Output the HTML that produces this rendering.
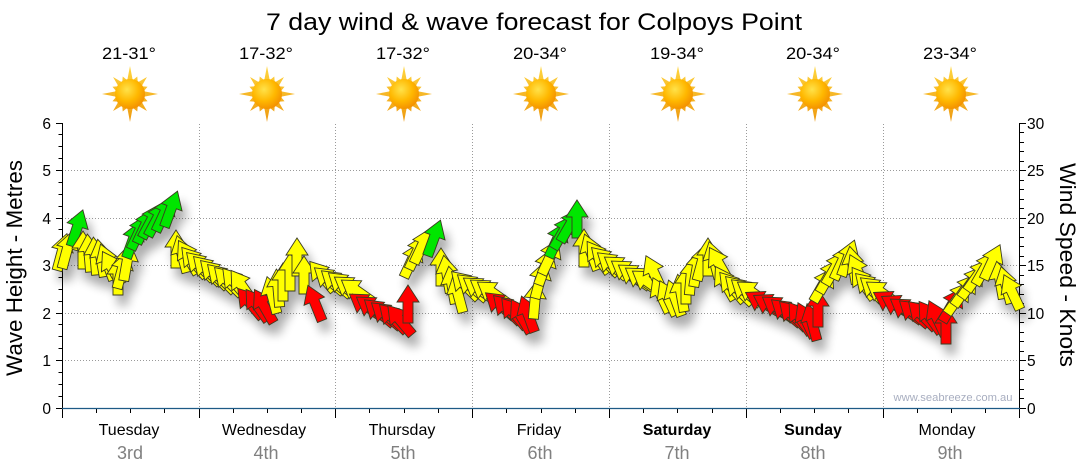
<!DOCTYPE html>
<html>
<head>
<meta charset="utf-8">
<style>
html,body{margin:0;padding:0;background:#fff;}
body{width:1080px;height:475px;overflow:hidden;}
svg{display:block;font-family:"Liberation Sans",Arial,sans-serif;}
</style>
</head>
<body>
<svg width="1080" height="475" viewBox="0 0 1080 475" xmlns="http://www.w3.org/2000/svg">
<defs>
  <radialGradient id="sg" cx="0.4" cy="0.35" r="0.7">
    <stop offset="0" stop-color="#ffe24a"/>
    <stop offset="0.55" stop-color="#ffb800"/>
    <stop offset="1" stop-color="#f28c00"/>
  </radialGradient>
  <linearGradient id="rg" x1="0" y1="0" x2="0" y2="1">
    <stop offset="0" stop-color="#ffd640"/>
    <stop offset="1" stop-color="#ee9a10"/>
  </linearGradient>
  <g id="sun">
    <polygon fill="url(#rg)" points="0,-28 2.73,-13.73 7.27,-17.55 7.78,-11.64 16.97,-16.97 11.64,-7.78 17.55,-7.27 13.73,-2.73 28,0 13.73,2.73 17.55,7.27 11.64,7.78 16.97,16.97 7.78,11.64 7.27,17.55 2.73,13.73 0,28 -2.73,13.73 -7.27,17.55 -7.78,11.64 -16.97,16.97 -11.64,7.78 -17.55,7.27 -13.73,2.73 -28,0 -13.73,-2.73 -17.55,-7.27 -11.64,-7.78 -16.97,-16.97 -7.78,-11.64 -7.27,-17.55 -2.73,-13.73"/>
    <circle r="15" fill="url(#sg)"/>
  </g>
  <path id="a" d="M0,-19 L11,-2 L5,-2 L5,19 L-5,19 L-5,-2 L-11,-2 Z" stroke="#3a3a20" stroke-width="0.9" stroke-linejoin="miter"/>
  <filter id="sh" filterUnits="userSpaceOnUse" x="30" y="150" width="1020" height="240">
    <feGaussianBlur in="SourceAlpha" stdDeviation="5"/>
    <feOffset dx="5" dy="10" result="o"/>
    <feComponentTransfer in="o" result="s"><feFuncA type="linear" slope="0.33"/></feComponentTransfer>
    <feMerge><feMergeNode in="s"/><feMergeNode in="SourceGraphic"/></feMerge>
  </filter>
</defs>

<!-- Title -->
<text x="534" y="30" font-size="24" text-anchor="middle" fill="#000" textLength="536" lengthAdjust="spacingAndGlyphs">7 day wind &amp; wave forecast for Colpoys Point</text>

<!-- Temps -->
<g font-size="16.5" fill="#000" text-anchor="middle">
  <text x="129" y="59" textLength="54" lengthAdjust="spacingAndGlyphs">21-31°</text>
  <text x="266" y="59" textLength="54" lengthAdjust="spacingAndGlyphs">17-32°</text>
  <text x="403" y="59" textLength="54" lengthAdjust="spacingAndGlyphs">17-32°</text>
  <text x="540" y="59" textLength="54" lengthAdjust="spacingAndGlyphs">20-34°</text>
  <text x="677" y="59" textLength="54" lengthAdjust="spacingAndGlyphs">19-34°</text>
  <text x="813" y="59" textLength="54" lengthAdjust="spacingAndGlyphs">20-34°</text>
  <text x="950" y="59" textLength="54" lengthAdjust="spacingAndGlyphs">23-34°</text>
</g>

<!-- Suns -->
<use href="#sun" transform="translate(130,94)"/>
<use href="#sun" transform="translate(267,94)"/>
<use href="#sun" transform="translate(404,94)"/>
<use href="#sun" transform="translate(541,94)"/>
<use href="#sun" transform="translate(678,94)"/>
<use href="#sun" transform="translate(815,94)"/>
<use href="#sun" transform="translate(951,94)"/>

<!-- Grid -->
<g stroke="#9a9a9a" stroke-width="1" stroke-dasharray="1,2" fill="none">
  <path d="M199.5,124V408M335.5,124V408M472.5,124V408M609.5,124V408M746.5,124V408M883.5,124V408"/>
  <path d="M62,170.5H1020M62,218.5H1020M62,265.5H1020M62,313.5H1020M62,360.5H1020"/>
</g>

<!-- Axes -->
<g stroke="#000" stroke-width="1" fill="none">
  <path d="M62.5,123V408"/>
  <path d="M1019.5,123V408"/>
  <path d="M56,408.5H62M58.5,396.5H62M58.5,384.5H62M58.5,372.5H62M56,360.5H62M58.5,348.5H62M58.5,336.5H62M58.5,324.5H62M56,313.5H62M58.5,301.5H62M58.5,289.5H62M58.5,277.5H62M56,265.5H62M58.5,253.5H62M58.5,241.5H62M58.5,229.5H62M56,218.5H62M58.5,206.5H62M58.5,194.5H62M58.5,182.5H62M56,170.5H62M58.5,158.5H62M58.5,146.5H62M58.5,134.5H62M56,123.5H62"/>
  <path d="M1020,408.5H1026M1020,398.5H1024M1020,389.5H1024M1020,379.5H1024M1020,370.5H1024M1020,360.5H1026M1020,351.5H1024M1020,341.5H1024M1020,332.5H1024M1020,322.5H1024M1020,313.5H1026M1020,303.5H1024M1020,294.5H1024M1020,284.5H1024M1020,275.5H1024M1020,265.5H1026M1020,256.5H1024M1020,246.5H1024M1020,237.5H1024M1020,227.5H1024M1020,218.5H1026M1020,208.5H1024M1020,199.5H1024M1020,189.5H1024M1020,180.5H1024M1020,170.5H1026M1020,161.5H1024M1020,151.5H1024M1020,142.5H1024M1020,132.5H1024M1020,123.5H1026"/>
  <path d="M62.5,408V418M96.5,408V413M130.5,408V413M164.5,408V413M199.5,408V418M233.5,408V413M267.5,408V413M301.5,408V413M335.5,408V418M369.5,408V413M404.5,408V413M438.5,408V413M472.5,408V418M506.5,408V413M541.5,408V413M575.5,408V413M609.5,408V418M643.5,408V413M677.5,408V413M712.5,408V413M746.5,408V418M780.5,408V413M814.5,408V413M848.5,408V413M883.5,408V418M917.5,408V413M951.5,408V413M985.5,408V413M1019.5,408V418"/>
</g>
<path d="M62,408.5H1020" stroke="#1d5a86" stroke-width="1.2"/>

<!-- Axis labels -->
<g font-size="15.5" fill="#000" text-anchor="end">
  <text x="51" y="414">0</text>
  <text x="51" y="366">1</text>
  <text x="51" y="319">2</text>
  <text x="51" y="271">3</text>
  <text x="51" y="224">4</text>
  <text x="51" y="176">5</text>
  <text x="51" y="129">6</text>
</g>
<g font-size="15.5" fill="#000" text-anchor="start">
  <text x="1027" y="414">0</text>
  <text x="1027" y="366">5</text>
  <text x="1027" y="319">10</text>
  <text x="1027" y="271">15</text>
  <text x="1027" y="224">20</text>
  <text x="1027" y="176">25</text>
  <text x="1027" y="129">30</text>
</g>
<text transform="translate(22,268) rotate(-90)" font-size="22" text-anchor="middle" fill="#000" textLength="216" lengthAdjust="spacingAndGlyphs">Wave Height - Metres</text>
<text transform="translate(1060,265) rotate(90)" font-size="22" text-anchor="middle" fill="#000" textLength="204" lengthAdjust="spacingAndGlyphs">Wind Speed - Knots</text>

<!-- Days -->
<g font-size="16" fill="#000" text-anchor="middle">
  <text x="129" y="435">Tuesday</text>
  <text x="264" y="435">Wednesday</text>
  <text x="402" y="435">Thursday</text>
  <text x="539" y="435">Friday</text>
  <text x="677" y="435" font-weight="bold">Saturday</text>
  <text x="813" y="435" font-weight="bold">Sunday</text>
  <text x="947" y="435">Monday</text>
</g>
<g font-size="18" fill="#808080" text-anchor="middle">
  <text x="130" y="459">3rd</text>
  <text x="266" y="459">4th</text>
  <text x="403" y="459">5th</text>
  <text x="540" y="459">6th</text>
  <text x="677" y="459">7th</text>
  <text x="813" y="459">8th</text>
  <text x="950" y="459">9th</text>
</g>

<text x="953" y="401" font-size="11" fill="#a8aec0" text-anchor="middle" textLength="119" lengthAdjust="spacingAndGlyphs">www.seabreeze.com.au</text>

<!-- Arrows -->
<g filter="url(#sh)">
<!-- Tuesday -->
<use href="#a" fill="#ffff00" transform="translate(62,252) rotate(15)"/>
<use href="#a" fill="#ffff00" transform="translate(67,250) rotate(15)"/>
<use href="#a" fill="#00e600" transform="translate(77,228) rotate(18)"/>
<use href="#a" fill="#ffff00" transform="translate(83,250) rotate(0)"/>
<use href="#a" fill="#ffff00" transform="translate(89,253) rotate(-5)"/>
<use href="#a" fill="#ffff00" transform="translate(95,256) rotate(-5)"/>
<use href="#a" fill="#ffff00" transform="translate(101,258) rotate(-10)"/>
<use href="#a" fill="#ffff00" transform="translate(107,262) rotate(-20)"/>
<use href="#a" fill="#ffff00" transform="translate(112,268) rotate(-30)"/>
<use href="#a" fill="#ffff00" transform="translate(118,276) rotate(0)"/>
<use href="#a" fill="#ffff00" transform="translate(122,270) rotate(15)"/>
<use href="#a" fill="#ffff00" transform="translate(127,262) rotate(10)"/>
<use href="#a" fill="#00e600" transform="translate(133,240) rotate(20)"/>
<use href="#a" fill="#00e600" transform="translate(139,232) rotate(25)"/>
<use href="#a" fill="#00e600" transform="translate(145,226) rotate(25)"/>
<use href="#a" fill="#00e600" transform="translate(151,221) rotate(28)"/>
<use href="#a" fill="#00e600" transform="translate(157,219) rotate(28)"/>
<use href="#a" fill="#00e600" transform="translate(164,214) rotate(25)"/>
<use href="#a" fill="#00e600" transform="translate(171,209) rotate(20)"/>
<use href="#a" fill="#ffff00" transform="translate(176,249) rotate(0)"/>
<use href="#a" fill="#ffff00" transform="translate(182,254) rotate(-15)"/>
<use href="#a" fill="#ffff00" transform="translate(188,257) rotate(-30)"/>
<use href="#a" fill="#ffff00" transform="translate(194,262) rotate(-40)"/>
<use href="#a" fill="#ffff00" transform="translate(200,266) rotate(-45)"/>
<use href="#a" fill="#ffff00" transform="translate(207,270) rotate(-45)"/>
<!-- Wednesday -->
<use href="#a" fill="#ffff00" transform="translate(214,274) rotate(-45)"/>
<use href="#a" fill="#ffff00" transform="translate(221,278) rotate(-45)"/>
<use href="#a" fill="#ffff00" transform="translate(228,281) rotate(-45)"/>
<use href="#a" fill="#ffff00" transform="translate(235,283) rotate(-40)"/>
<use href="#a" fill="#ffff00" transform="translate(242,286) rotate(-35)"/>
<use href="#a" fill="#ff0000" transform="translate(250,303) rotate(-40)"/>
<use href="#a" fill="#ff0000" transform="translate(257,305) rotate(-35)"/>
<use href="#a" fill="#ff0000" transform="translate(264,306) rotate(-30)"/>
<use href="#a" fill="#ffff00" transform="translate(272,295) rotate(-15)"/>
<use href="#a" fill="#ffff00" transform="translate(278,288) rotate(-5)"/>
<use href="#a" fill="#ffff00" transform="translate(283,282) rotate(0)"/>
<use href="#a" fill="#ffff00" transform="translate(290,272) rotate(0)"/>
<use href="#a" fill="#ffff00" transform="translate(297,257) rotate(0)"/>
<use href="#a" fill="#ffff00" transform="translate(304,275) rotate(0)"/>
<use href="#a" fill="#ff0000" transform="translate(315,303) rotate(-22)"/>
<use href="#a" fill="#ffff00" transform="translate(322,276) rotate(-40)"/>
<use href="#a" fill="#ffff00" transform="translate(329,280) rotate(-50)"/>
<use href="#a" fill="#ffff00" transform="translate(336,283) rotate(-50)"/>
<use href="#a" fill="#ffff00" transform="translate(343,285) rotate(-50)"/>
<use href="#a" fill="#ffff00" transform="translate(350,288) rotate(-55)"/>
<use href="#a" fill="#ffff00" transform="translate(357,291) rotate(-55)"/>
<!-- Thursday -->
<use href="#a" fill="#ff0000" transform="translate(365,305) rotate(-55)"/>
<use href="#a" fill="#ff0000" transform="translate(372,308) rotate(-55)"/>
<use href="#a" fill="#ff0000" transform="translate(379,312) rotate(-50)"/>
<use href="#a" fill="#ff0000" transform="translate(386,315) rotate(-50)"/>
<use href="#a" fill="#ff0000" transform="translate(393,318) rotate(-45)"/>
<use href="#a" fill="#ff0000" transform="translate(400,320) rotate(-40)"/>
<use href="#a" fill="#ff0000" transform="translate(408,304) rotate(0)"/>
<use href="#a" fill="#ffff00" transform="translate(412,260) rotate(25)"/>
<use href="#a" fill="#ffff00" transform="translate(417,252) rotate(25)"/>
<use href="#a" fill="#ffff00" transform="translate(422,246) rotate(25)"/>
<use href="#a" fill="#00e600" transform="translate(434,238) rotate(20)"/>
<use href="#a" fill="#ffff00" transform="translate(441,267) rotate(0)"/>
<use href="#a" fill="#ffff00" transform="translate(447,274) rotate(-10)"/>
<use href="#a" fill="#ffff00" transform="translate(452,285) rotate(-10)"/>
<use href="#a" fill="#ffff00" transform="translate(458,294) rotate(-15)"/>
<use href="#a" fill="#ffff00" transform="translate(465,285) rotate(-45)"/>
<use href="#a" fill="#ffff00" transform="translate(472,287) rotate(-50)"/>
<use href="#a" fill="#ffff00" transform="translate(479,289) rotate(-55)"/>
<use href="#a" fill="#ffff00" transform="translate(486,291) rotate(-55)"/>
<use href="#a" fill="#ffff00" transform="translate(493,293) rotate(-55)"/>
<!-- Friday -->
<use href="#a" fill="#ff0000" transform="translate(500,305) rotate(-50)"/>
<use href="#a" fill="#ff0000" transform="translate(507,309) rotate(-45)"/>
<use href="#a" fill="#ff0000" transform="translate(514,313) rotate(-40)"/>
<use href="#a" fill="#ff0000" transform="translate(521,316) rotate(-30)"/>
<use href="#a" fill="#ff0000" transform="translate(528,314) rotate(-20)"/>
<use href="#a" fill="#ffff00" transform="translate(535,300) rotate(5)"/>
<use href="#a" fill="#ffff00" transform="translate(540,280) rotate(15)"/>
<use href="#a" fill="#ffff00" transform="translate(545,267) rotate(20)"/>
<use href="#a" fill="#ffff00" transform="translate(550,257) rotate(25)"/>
<use href="#a" fill="#00e600" transform="translate(557,240) rotate(25)"/>
<use href="#a" fill="#00e600" transform="translate(563,232) rotate(30)"/>
<use href="#a" fill="#00e600" transform="translate(570,225) rotate(30)"/>
<use href="#a" fill="#00e600" transform="translate(577,219) rotate(0)"/>
<use href="#a" fill="#ffff00" transform="translate(584,248) rotate(0)"/>
<use href="#a" fill="#ffff00" transform="translate(591,252) rotate(-20)"/>
<use href="#a" fill="#ffff00" transform="translate(598,257) rotate(-35)"/>
<use href="#a" fill="#ffff00" transform="translate(605,261) rotate(-45)"/>
<use href="#a" fill="#ffff00" transform="translate(612,265) rotate(-50)"/>
<!-- Saturday -->
<use href="#a" fill="#ffff00" transform="translate(620,268) rotate(-55)"/>
<use href="#a" fill="#ffff00" transform="translate(627,272) rotate(-55)"/>
<use href="#a" fill="#ffff00" transform="translate(634,276) rotate(-55)"/>
<use href="#a" fill="#ffff00" transform="translate(641,279) rotate(-55)"/>
<use href="#a" fill="#ffff00" transform="translate(648,282) rotate(-55)"/>
<use href="#a" fill="#ffff00" transform="translate(654,273) rotate(-25)"/>
<use href="#a" fill="#ffff00" transform="translate(661,295) rotate(-25)"/>
<use href="#a" fill="#ffff00" transform="translate(668,298) rotate(-25)"/>
<use href="#a" fill="#ffff00" transform="translate(675,298) rotate(-20)"/>
<use href="#a" fill="#ffff00" transform="translate(681,293) rotate(-10)"/>
<use href="#a" fill="#ffff00" transform="translate(686,285) rotate(0)"/>
<use href="#a" fill="#ffff00" transform="translate(691,276) rotate(5)"/>
<use href="#a" fill="#ffff00" transform="translate(697,268) rotate(10)"/>
<use href="#a" fill="#ffff00" transform="translate(702,262) rotate(15)"/>
<use href="#a" fill="#ffff00" transform="translate(708,257) rotate(0)"/>
<use href="#a" fill="#ffff00" transform="translate(714,260) rotate(-15)"/>
<use href="#a" fill="#ffff00" transform="translate(719,264) rotate(-30)"/>
<use href="#a" fill="#ffff00" transform="translate(725,283) rotate(-30)"/>
<use href="#a" fill="#ffff00" transform="translate(732,287) rotate(-40)"/>
<use href="#a" fill="#ffff00" transform="translate(739,290) rotate(-45)"/>
<use href="#a" fill="#ffff00" transform="translate(746,292) rotate(-50)"/>
<use href="#a" fill="#ffff00" transform="translate(753,293) rotate(-55)"/>
<!-- Sunday -->
<use href="#a" fill="#ff0000" transform="translate(762,302) rotate(-60)"/>
<use href="#a" fill="#ff0000" transform="translate(770,305) rotate(-60)"/>
<use href="#a" fill="#ff0000" transform="translate(778,308) rotate(-55)"/>
<use href="#a" fill="#ff0000" transform="translate(786,312) rotate(-50)"/>
<use href="#a" fill="#ff0000" transform="translate(793,315) rotate(-45)"/>
<use href="#a" fill="#ff0000" transform="translate(800,318) rotate(-35)"/>
<use href="#a" fill="#ff0000" transform="translate(806,320) rotate(-25)"/>
<use href="#a" fill="#ff0000" transform="translate(812,322) rotate(-15)"/>
<use href="#a" fill="#ff0000" transform="translate(818,308) rotate(0)"/>
<use href="#a" fill="#ffff00" transform="translate(823,285) rotate(30)"/>
<use href="#a" fill="#ffff00" transform="translate(829,276) rotate(30)"/>
<use href="#a" fill="#ffff00" transform="translate(835,268) rotate(30)"/>
<use href="#a" fill="#ffff00" transform="translate(842,262) rotate(25)"/>
<use href="#a" fill="#ffff00" transform="translate(848,258) rotate(20)"/>
<use href="#a" fill="#ffff00" transform="translate(853,265) rotate(-10)"/>
<use href="#a" fill="#ffff00" transform="translate(858,272) rotate(-25)"/>
<use href="#a" fill="#ffff00" transform="translate(863,283) rotate(-35)"/>
<use href="#a" fill="#ffff00" transform="translate(869,287) rotate(-45)"/>
<use href="#a" fill="#ffff00" transform="translate(875,290) rotate(-50)"/>
<use href="#a" fill="#ffff00" transform="translate(882,293) rotate(-55)"/>
<!-- Monday -->
<use href="#a" fill="#ff0000" transform="translate(890,302) rotate(-60)"/>
<use href="#a" fill="#ff0000" transform="translate(898,306) rotate(-60)"/>
<use href="#a" fill="#ff0000" transform="translate(906,310) rotate(-55)"/>
<use href="#a" fill="#ff0000" transform="translate(914,313) rotate(-50)"/>
<use href="#a" fill="#ff0000" transform="translate(922,315) rotate(-45)"/>
<use href="#a" fill="#ff0000" transform="translate(930,317) rotate(-35)"/>
<use href="#a" fill="#ff0000" transform="translate(937,318) rotate(-25)"/>
<use href="#a" fill="#ff0000" transform="translate(946,325) rotate(0)"/>
<use href="#a" fill="#ff0000" transform="translate(952,305) rotate(30)"/>
<use href="#a" fill="#ffff00" transform="translate(958,298) rotate(35)"/>
<use href="#a" fill="#ffff00" transform="translate(965,290) rotate(35)"/>
<use href="#a" fill="#ffff00" transform="translate(972,282) rotate(35)"/>
<use href="#a" fill="#ffff00" transform="translate(978,275) rotate(35)"/>
<use href="#a" fill="#ffff00" transform="translate(985,268) rotate(30)"/>
<use href="#a" fill="#ffff00" transform="translate(992,262) rotate(25)"/>
<use href="#a" fill="#ffff00" transform="translate(1000,280) rotate(-10)"/>
<use href="#a" fill="#ffff00" transform="translate(1006,285) rotate(-15)"/>
<use href="#a" fill="#ffff00" transform="translate(1012,292) rotate(-25)"/>
</g>
</svg>
</body>
</html>
